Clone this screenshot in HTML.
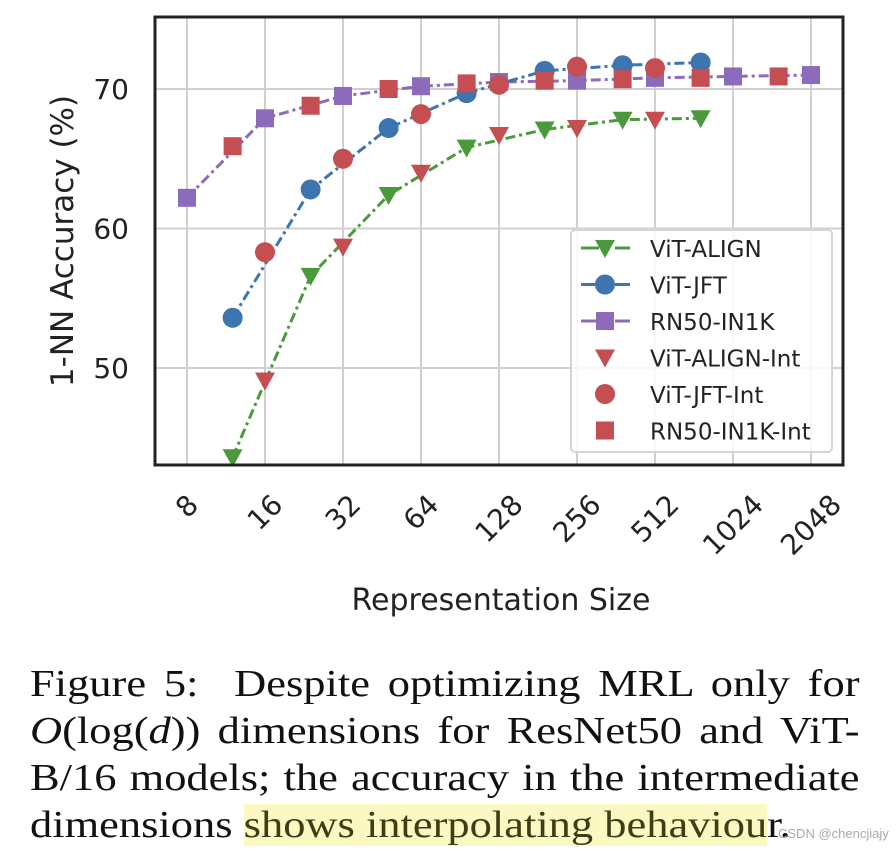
<!DOCTYPE html>
<html><head><meta charset="utf-8">
<style>
body{margin:0;background:#fff;width:896px;height:854px;overflow:hidden;position:relative}
.cap{position:absolute;left:30px;width:709px;font-family:"Liberation Serif",serif;font-size:38px;line-height:44px;color:#111;white-space:nowrap;text-align:justify;text-align-last:justify;transform:scaleX(1.17);transform-origin:0 0}
</style></head><body>
<svg id="chart" width="896" height="640" style="position:absolute;left:0;top:0" font-family="DejaVu Sans, Liberation Sans, sans-serif"></svg>
<div class="cap" style="top:662px">Figure 5:&nbsp; Despite optimizing MRL only for</div>
<div class="cap" style="top:709px"><i>O</i>(log(<i>d</i>)) dimensions for ResNet50 and ViT-</div>
<div class="cap" style="top:756px">B/16 models; the accuracy in the intermediate</div>
<div class="cap" style="top:803px;width:auto;text-align:left;text-align-last:auto">dimensions <span style="background:#fbf8c2;color:#3d3d18">shows interpolating behaviou</span>r.</div>
<div style="position:absolute;left:778px;top:826px;font-family:'Liberation Sans',sans-serif;font-size:13px;color:#aaa">CSDN @chencjiajy</div>
<script>
const tickSizes=[8,16,32,64,128,256,512,1024,2048];
const yTicks=[50,60,70];
const alignX=[12,24,48,96,192,384,768], alignY=[43.6,56.6,62.4,65.8,67.1,67.8,67.9];
const jftX=[12,24,48,96,192,384,768], jftY=[53.6,62.8,67.2,69.7,71.3,71.7,71.9];
const rnX=[8,16,32,64,128,256,512,1024,2048], rnY=[62.2,67.9,69.5,70.2,70.5,70.6,70.8,70.9,71.0];
const alignIntX=[16,32,64,128,256,512], alignIntY=[49.1,58.7,64.0,66.7,67.2,67.8];
const jftIntX=[16,32,64,128,256,512], jftIntY=[58.3,65.0,68.2,70.3,71.6,71.5];
const rnIntX=[12,24,48,96,192,384,768,1536], rnIntY=[65.9,68.8,70.0,70.4,70.6,70.7,70.8,70.9];
const svg=document.getElementById('chart');const NS='http://www.w3.org/2000/svg';
const L=155,R=843,T=17,B=465;
const xs=v=>187+78*Math.log2(v/8);
const ys=v=>89+(70-v)*13.95;
function mk(tag,a,parent){const e=document.createElementNS(NS,tag);for(const k in a)e.setAttribute(k,a[k]);(parent||svg).appendChild(e);return e;}
mk('rect',{x:L,y:T,width:R-L,height:B-T,fill:'#fff'});
tickSizes.forEach(t=>{const g=mk('line',{x1:xs(t),x2:xs(t),y1:T,y2:B,stroke:'#d0d0d0','stroke-width':2});

const w=String(t).length*17.5;const cy=B+28+(w+20)*0.354;
const tx=mk('text',{x:0,y:0,'font-size':28,fill:'#222','text-anchor':'middle','dominant-baseline':'central',transform:`translate(${xs(t)},${cy}) rotate(-45)`});tx.textContent=t;
});
yTicks.forEach(t=>{const g=mk('line',{x1:L,x2:R,y1:ys(t),y2:ys(t),stroke:'#d0d0d0','stroke-width':2});

const tx=mk('text',{x:L-26,y:ys(t)+10,'font-size':28,fill:'#222','text-anchor':'end'});tx.textContent=t;
});
function marker(type,x,y,c,s){
 if(type==='tri')return mk('path',{d:`M${x-s},${y-s*0.8}L${x+s},${y-s*0.8}L${x},${y+s}Z`,fill:c});
 if(type==='circ')return mk('circle',{cx:x,cy:y,r:s,fill:c});
 return mk('rect',{x:x-s*0.9,y:y-s*0.9,width:s*1.8,height:s*1.8,fill:c});
}
const clip=mk('clipPath',{id:'pc'});mk('rect',{x:L,y:T,width:R-L,height:B-T},clip);
const gp=mk('g',{'clip-path':'url(#pc)'});
function series(xa,ya,c,type,line,name){
 if(line){const p=mk('polyline',{points:xa.map((x,i)=>xs(x)+','+ys(ya[i])).join(' '),fill:'none',stroke:c,'stroke-width':3,'stroke-dasharray':'10,4,3,4'},gp);
 }
 xa.forEach((x,i)=>{const m=marker(type,xs(x),ys(ya[i]),c,10);gp.appendChild(m);
 });
}
const red='#c44e52';
series(rnX,rnY,'#8c6bbb','sq',true,'rn50-in1k');
series(jftX,jftY,'#3c75b0','circ',true,'vit-jft');
series(alignX,alignY,'#4a9a3c','tri',true,'vit-align');
series(alignIntX,alignIntY,red,'tri',false,'vit-align-int');
series(jftIntX,jftIntY,red,'circ',false,'vit-jft-int');
series(rnIntX,rnIntY,red,'sq',false,'rn50-in1k-int');
mk('rect',{x:L,y:T,width:R-L,height:B-T,fill:'none',stroke:'#222','stroke-width':3});
const lg=mk('g',{});
mk('rect',{x:571,y:230,width:261,height:222,rx:4,fill:'#fff','fill-opacity':0.85,stroke:'#d5d5d5','stroke-width':2},lg);
const lgItems=[['ViT-ALIGN','#4a9a3c','tri',true],['ViT-JFT','#3c75b0','circ',true],['RN50-IN1K','#8c6bbb','sq',true],['ViT-ALIGN-Int',red,'tri',false],['ViT-JFT-Int',red,'circ',false],['RN50-IN1K-Int',red,'sq',false]];
lgItems.forEach((it,i)=>{const y=248+i*36.5;
 if(it[3]){mk('line',{x1:581,x2:630,y1:y,y2:y,stroke:it[1],'stroke-width':3,'stroke-dasharray':'18,6,4,6'},lg);}
 lg.appendChild(marker(it[2],605,y,it[1],10));
 const t=mk('text',{x:650,y:y+9,'font-size':23,fill:'#222'},lg);t.textContent=it[0];
 });
const xt=mk('text',{x:(L+R)/2+2,y:610,'font-size':30,fill:'#222','text-anchor':'middle'});xt.textContent='Representation Size';

const yt=mk('text',{x:0,y:0,'font-size':31,fill:'#222','text-anchor':'middle',transform:`translate(73,${(T+B)/2}) rotate(-90)`});yt.textContent='1-NN Accuracy (%)';

</script>
</body></html>
